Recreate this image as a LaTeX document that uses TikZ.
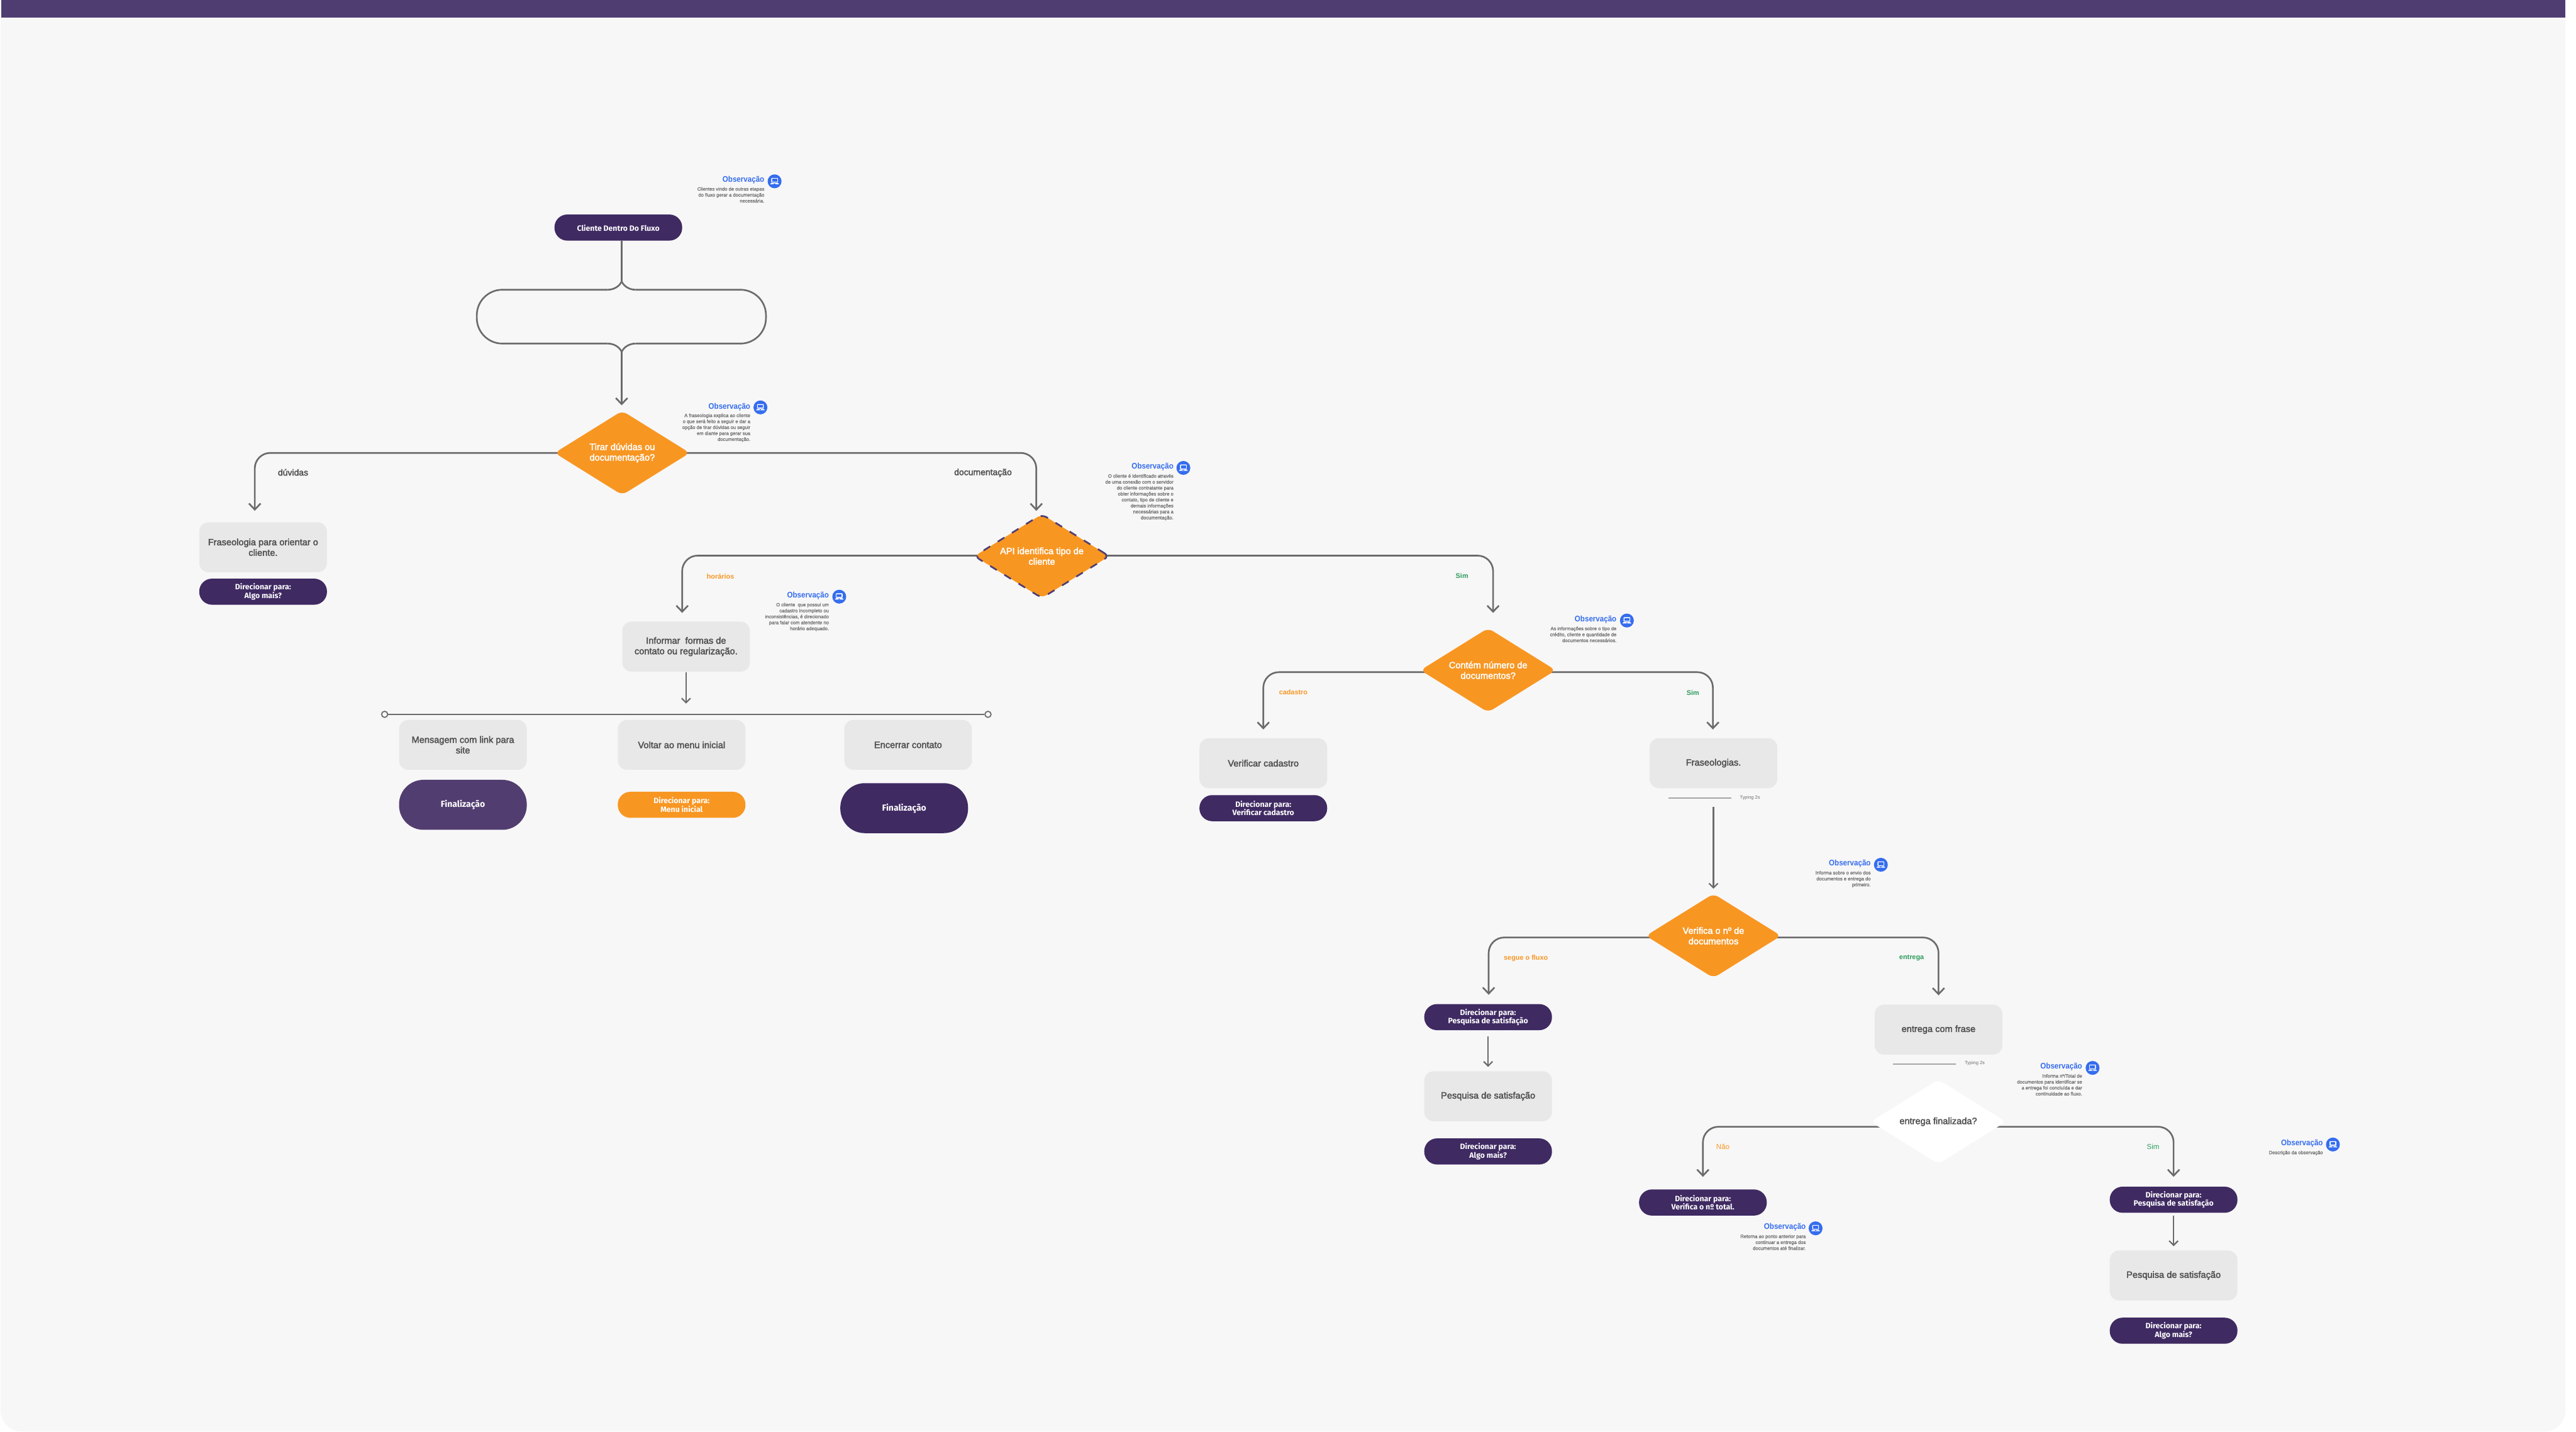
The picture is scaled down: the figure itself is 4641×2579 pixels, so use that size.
\documentclass[tikz,border=0pt]{standalone}
\usepackage{fontspec}
\usetikzlibrary{shapes.geometric,arrows.meta,calc}
\setmainfont{Liberation Sans}
\newfontfamily\pillf{Fira Sans}
\newfontfamily\medf[FakeBold=2.5]{Liberation Sans}
\newfontfamily\lightf[FakeBold=1.2]{Liberation Sans}
\newfontfamily\condf[FakeStretch=0.9]{Liberation Sans}
\definecolor{pagebg}{HTML}{F7F7F7}
\definecolor{barc}{HTML}{4F3D72}
\definecolor{purp}{HTML}{3F2A62}
\definecolor{purpl}{HTML}{523D70}
\definecolor{orng}{HTML}{F89622}
\definecolor{boxg}{HTML}{E8E8E8}
\definecolor{txtg}{HTML}{505050}
\definecolor{lineg}{HTML}{6B6B6B}
\definecolor{obsblue}{HTML}{356DEE}
\definecolor{obstx}{HTML}{6E6E6E}
\definecolor{grn}{HTML}{2E9B5F}
\pgfdeclarelayer{bg}
\pgfsetlayers{bg,main}
\tikzset{
  x=0.01cm,y=-0.01cm,
  gbox/.style={rectangle,rounded corners=0.17cm,fill=boxg,minimum width=2.3cm,minimum height=0.9cm,inner sep=0,align=center,text=txtg,font=\medf\fontsize{4.7pt}{5.4pt}\selectfont},
  pill/.style={rectangle,rounded corners=0.23cm,fill=purp,minimum width=2.3cm,minimum height=0.47cm,inner sep=0,align=center,text=white,font=\pillf\bfseries\fontsize{3.95pt}{4.27pt}\selectfont,execute at begin node={\rule{0pt}{3.9pt}}},
  bigpill/.style={pill,rounded corners=0.44cm,minimum height=0.9cm,font=\pillf\bfseries\fontsize{4.5pt}{5.4pt}\selectfont},
  dia/.style={diamond,aspect=1.6,rounded corners=0.1cm,fill=orng,minimum width=2.44cm,minimum height=1.52cm,inner sep=0,align=center,text=white,font=\medf\fontsize{4.7pt}{5.4pt}\selectfont},
  conn/.style={draw=lineg,line width=0.03cm,rounded corners=0.28cm,-{Straight Barb[length=0.11cm,width=0.21cm,line width=0.03cm]}},
  thin/.style={draw=lineg,line width=0.025cm,-{Straight Barb[length=0.08cm,width=0.16cm,line width=0.025cm]}},
  flow/.style={draw=lineg,line width=0.03cm},
  lab/.style={inner sep=0,font=\fontsize{3.7pt}{4.4pt}\selectfont},
  labb/.style={lab,font=\bfseries\fontsize{3.5pt}{4.4pt}\selectfont},
  labg/.style={lab,text=txtg,font=\medf\fontsize{4.5pt}{5pt}\selectfont},
  obstitle/.style={inner sep=0,yshift=-0.02cm,text=obsblue,font=\condf\bfseries\fontsize{4.15pt}{5pt}\selectfont},
  obstext/.style={inner sep=0,align=right,text=obstx,font=\lightf\fontsize{2.45pt}{3.05pt}\selectfont},
  obsicon/.style={circle,fill=obsblue,minimum size=0.25cm,inner sep=0},
  typing/.style={inner sep=0,text=obstx,font=\fontsize{2.4pt}{3pt}\selectfont},
  typeline/.style={draw=black!35,line width=0.015cm},
  hdot/.style={circle,draw=lineg,fill=pagebg,line width=0.02cm,minimum size=0.11cm,inner sep=0},
}
\newcommand\obsnote[7]{%
  \node[obstitle,anchor=east] (#1t) at (#2,#3) {Observação};
  \node[obsicon] (#1i) at (#4,#5) {};
  \fill[white,rounded corners=0.01cm] ($(#1i)+(-6,-6)$) rectangle ($(#1i)+(6,2)$);
  \fill[obsblue] ($(#1i)+(-4.5,-4.7)$) rectangle ($(#1i)+(4.5,0.7)$);
  \fill[white] ($(#1i)+(-6,2.8)$) -- ($(#1i)+(6,2.8)$) -- ($(#1i)+(8,5.2)$) -- ($(#1i)+(-8,5.2)$) -- cycle;
  \fill[obsblue] ($(#1i)+(-1.5,3.6)$) rectangle ($(#1i)+(1.5,4.4)$);
  \node[obstext,anchor=north east] (#1d) at (#2,#6) {#7};
}
\begin{document}
\begin{tikzpicture}
\useasboundingbox (0,0) rectangle (4641,2579);
\begin{pgfonlayer}{bg}
  \fill[white] (0,0) rectangle (4641,2579);
  \fill[pagebg] (1,0) -- (1,2541) arc[start angle=180,end angle=270,x radius=38,y radius=-38] -- (4584,2579) arc[start angle=270,end angle=360,x radius=38,y radius=-38] -- (4622,0) -- cycle;
  \fill[barc] (2,0) rectangle (4622,32);
\end{pgfonlayer}

% nodes
\node[pill] (start) at (1114,410) {Cliente Dentro Do Fluxo};
\coordinate (j1) at (1120,507);
\coordinate (j2) at (1120,634);
\coordinate (lt1) at (1095,522); \coordinate (lt2) at (1145,522);
\coordinate (lb1) at (1095,619); \coordinate (lb2) at (1145,619);
\node[dia] (tirar) at (1121,816) {Tirar dúvidas ou\\documentação?};
\node[gbox] (fras) at (474,986) {Fraseologia para orientar o\\cliente.};
\node[pill] (pfras) at (474,1066) {Direcionar para:\\Algo mais?};
\node[dia,draw=barc,line width=0.03cm,dash pattern=on 0.14cm off 0.16cm] (api) at (1877,1002) {API identifica tipo de\\cliente};
\node[gbox] (inf) at (1236,1165) {Informar\ \ formas de\\contato ou regularização.};
\node[hdot] (hl) at (693,1287) {};
\node[hdot] (hr) at (1780,1287) {};
\node[gbox] (msg) at (834,1342) {Mensagem com link para\\site};
\node[gbox] (volt) at (1228,1342) {Voltar ao menu inicial};
\node[gbox] (enc) at (1636,1342) {Encerrar contato};
\node[bigpill,fill=purpl] (fin1) at (834,1450) {Finalização};
\node[pill,fill=orng] (pmenu) at (1228,1450) {Direcionar para:\\Menu inicial};
\node[bigpill] (fin2) at (1629,1456) {Finalização};
\node[dia] (cont) at (2681,1207.5) {Contém número de\\documentos?};
\node[gbox] (vcad) at (2276,1375) {Verificar cadastro};
\node[pill] (pcad) at (2276,1456) {Direcionar para:\\Verificar cadastro};
\node[gbox] (fr) at (3087,1375) {Fraseologias.};
\node[dia] (ver) at (3087,1686) {Verifica o nº de\\documentos};
\node[pill] (pp1) at (2681,1832.5) {Direcionar para:\\Pesquisa de satisfação};
\node[gbox] (bp1) at (2681,1975) {Pesquisa de satisfação};
\node[pill] (pa1) at (2681,2074.5) {Direcionar para:\\Algo mais?};
\node[gbox] (ent) at (3492.5,1855) {entrega com frase};
\node[dia,fill=white,text=txtg] (fim) at (3492,2021) {entrega finalizada?};
\node[pill] (pv) at (3068,2166.5) {Direcionar para:\\Verifica o nº total.};
\node[pill] (pr) at (3916,2161.5) {Direcionar para:\\Pesquisa de satisfação};
\node[gbox] (bp2) at (3916,2298) {Pesquisa de satisfação};
\node[pill] (pa2) at (3916,2397.5) {Direcionar para:\\Algo mais?};

% edge labels
\node[labg] (ldu) at (528,851) {dúvidas};
\node[labg] (ldo) at (1771,852) {documentação};
\node[labb,text=orng] (lho) at (1298,1038) {horários};
\node[labb,text=grn] (lsi1) at (2634,1038) {Sim};
\node[labb,text=orng] (lca) at (2330,1247) {cadastro};
\node[labb,text=grn] (lsi2) at (3050,1248) {Sim};
\node[labb,text=orng] (lse) at (2749,1726) {segue o fluxo};
\node[labb,text=grn] (len) at (3444,1726) {entrega};
\node[lab,text=orng] (lna) at (3104,2066) {Não};
\node[lab,text=grn] (lsi3) at (3879,2066) {Sim};

% typing marks
\coordinate (ta1) at (3006,1438); \coordinate (ta2) at (3119,1438);
\coordinate (tb1) at (3411,1917); \coordinate (tb2) at (3524,1917);
\draw[typeline] (ta1) -- (ta2);
\draw[typeline] (tb1) -- (tb2);
\node[typing,anchor=west] (tya) at (3134,1437) {Typing 2s};
\node[typing,anchor=west] (tyb) at (3539,1916) {Typing 2s};

% observations
\obsnote{oa}{1377.7}{322}{1395.5}{326.7}{336.5}{Clientes vindo de outras etapas\\do fluxo gerar a documentação\\necessária.}
\obsnote{ob}{1352.5}{731}{1370}{734}{744.5}{A fraseologia explica ao cliente\\o que será feito a seguir e dar a\\opção de tirar dúvidas ou seguir\\em diante para gerar sua\\documentação.}
\obsnote{oc}{2114.8}{839}{2132}{843}{853.5}{O cliente é identificado através\\de uma conexão com o servidor\\do cliente contratante para\\obter informações sobre o\\contato, tipo de cliente e\\demais informações\\necessárias para a\\documentação.}
\obsnote{od}{1494}{1071}{1512}{1075}{1085.5}{O cliente\ \ que possui um\\cadastro incompleto ou\\inconsistências, é direcionado\\para falar com atendente no\\horário adequado.}
\obsnote{oe}{2913}{1114}{2931}{1118}{1128.5}{As informações sobre o tipo de\\crédito, cliente e quantidade de\\documentos necessários.}
\obsnote{of}{3371}{1554}{3388.6}{1558}{1568.5}{Informa sobre o envio dos\\documentos e entrega do\\primeiro.}
\obsnote{og}{3752}{1920}{3770}{1924}{1934.5}{Informa nº/Total de\\documentos para identificar se\\a entrega foi concluída e dar\\continuidade ao fluxo.}
\obsnote{oh}{3254}{2209}{3271}{2213}{2223.5}{Retorna ao ponto anterior para\\continuar a entrega dos\\documentos até finalizar.}
\obsnote{oi}{4185.7}{2058}{4203}{2062}{2072.5}{Descrição da observação}

% connectors
\begin{pgfonlayer}{bg}
\draw[flow] (j1 |- start.south) -- (j1);
\draw[flow,rounded corners=0.46cm] (lt1) -- (859,522) -- (859,619) -- (lb1);
\draw[flow,rounded corners=0.46cm] (lt2) -- (1380,522) -- (1380,619) -- (lb2);
\draw[flow] (j1) .. controls (1116,516) and (1106,522) .. (lt1);
\draw[flow] (j1) .. controls (1124,516) and (1134,522) .. (lt2);
\draw[flow] (j2) .. controls (1116,625) and (1106,619) .. (lb1);
\draw[flow] (j2) .. controls (1124,625) and (1134,619) .. (lb2);
\draw[conn] (j2) -- (j2 |- {$(tirar.north)+(0,-9)$});
\draw[conn] (tirar.center) -| ($(fras.north)+(-15,-20)$);
\draw[conn] (tirar.center) -| ($(api.north)+(-10,-4)$);
\draw[conn] ($(api.center)+(0,-1)$) -| ($(inf.north)+(-7,-15)$);
\draw[conn] ($(api.center)+(0,-1)$) -| ($(cont.north)+(9,-26.5)$);
\draw[thin] (inf.south) -- ($(inf.south)+(0,57)$);
\draw[draw=lineg,line width=0.03cm] (hl) -- (hr);
\draw[conn] ($(cont.center)+(0,3.5)$) -| ($(vcad.north)+(0,-15)$);
\draw[conn] ($(cont.center)+(0,3.5)$) -| ($(fr.north)+(-1,-15)$);
\draw[thin] ($(fr.south)+(0,33)$) -- ($(ver.north)+(0,-8)$);
\draw[conn] ($(ver.center)+(0,3)$) -| ($(pp1.north)+(1,-16)$);
\draw[conn] ($(ver.center)+(0,3)$) -| ($(ent.north)+(0,-16)$);
\draw[thin] ($(pp1.south)+(0,10)$) -- ($(bp1.north)+(0,-7)$);
\draw[conn] ($(fim.center)+(0,9)$) -| ($(pv.north)+(0,-22)$);
\draw[conn] ($(fim.center)+(0,9)$) -| ($(pr.north)+(0,-17)$);
\draw[thin] ($(pr.south)+(0,4)$) -- ($(bp2.north)+(0,-7)$);
\end{pgfonlayer}
\end{tikzpicture}
\end{document}
